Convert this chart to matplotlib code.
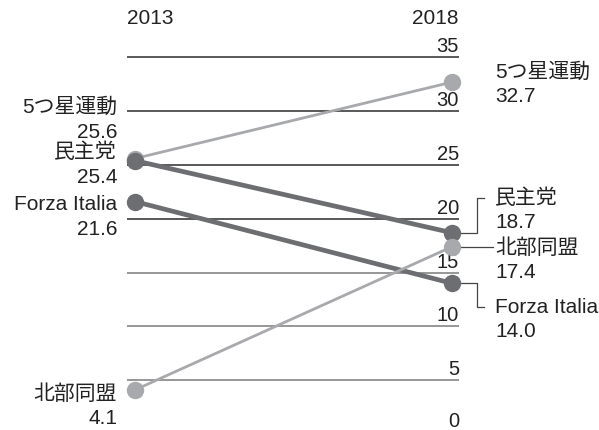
import numpy as np
import matplotlib.pyplot as plt
from matplotlib.transforms import IdentityTransform

plt.rcParams['font.family'] = ['Liberation Sans', 'Noto Sans CJK JP', 'DejaVu Sans']

years = ['2013', '2018']
parties = ['5つ星運動', '民主党', 'Forza Italia', '北部同盟']
v2013 = [25.6, 25.4, 21.6, 4.1]
v2018 = [32.7, 18.7, 14.0, 17.4]
ticks = [0, 5, 10, 15, 20, 25, 30, 35]

colors = ['#a8a9ad', '#6d6e71', '#6d6e71', '#a8a9ad']
widths = [2.0, 3.4, 3.4, 2.0]
# label placement (pixel offsets of the name from the point, value goes below)
left_dy = [51, 8, -3, -4]
right_dy = [10, 35, -24, -1]
elbow = [None, 'up', 'down', 'flat']

fig = plt.figure(figsize=(5.99, 4.30), dpi=100)
ax = fig.add_axes([0, 0, 1, 1])
ax.set_xlim(-0.4259, 1.4637)
ax.set_ylim(0.37, 40.33)
ax.axis('off')

# gridlines + tick labels
for t in ticks:
    c = '#2b2b2b' if t >= 20 else '#7a7a7a'
    if t > 0:
        ax.hlines(t, -0.025, 1.022, color=c, lw=1.1, zorder=1)
    ax.annotate(str(t), (1.022, t), xytext=(0, 5 if t > 0 else 7), textcoords='offset pixels',
                ha='right', va='baseline', fontsize=14.5, color='#222222',
                annotation_clip=False)

ax.text(-0.025, 38.6, years[0], ha='left', va='center', fontsize=15, color='#222222')
ax.text(1.022, 38.6, years[1], ha='right', va='center', fontsize=15, color='#222222')

for i, p in enumerate(parties):
    ax.plot([0, 1], [v2013[i], v2018[i]], color=colors[i], lw=widths[i],
            marker='o', markersize=11.5, solid_capstyle='butt', zorder=3 + i)

    # left labels
    ax.annotate(p, (0, v2013[i]), xytext=(-18, left_dy[i]), textcoords='offset pixels',
                ha='right', va='center', fontsize=15, color='#222222')
    ax.annotate(f'{v2013[i]:.1f}', (0, v2013[i]), xytext=(-18, left_dy[i] - 24.5),
                textcoords='offset pixels', ha='right', va='center', fontsize=15,
                color='#222222', annotation_clip=False)

    # right labels
    ax.annotate(p, (1, v2018[i]), xytext=(43, right_dy[i]), textcoords='offset pixels',
                ha='left', va='center', fontsize=15, color='#222222')
    ax.annotate(f'{v2018[i]:.1f}', (1, v2018[i]), xytext=(43, right_dy[i] - 24.5),
                textcoords='offset pixels', ha='left', va='center', fontsize=15,
                color='#222222')

# connectors to right labels
fig.canvas.draw()
for i, p in enumerate(parties):
    if elbow[i] is None:
        continue
    px, py = ax.transData.transform((1, v2018[i]))
    if elbow[i] == 'flat':
        xs = [px, px + 41]
        ys = [py, py]
    else:
        dy = right_dy[i]
        xs = [px, px + 25, px + 25, px + 32]
        ys = [py, py, py + dy, py + dy]
    ax.plot(xs, ys, color='#444444', lw=0.9, transform=IdentityTransform(), zorder=2)

fig.savefig('out.png', dpi=100)
